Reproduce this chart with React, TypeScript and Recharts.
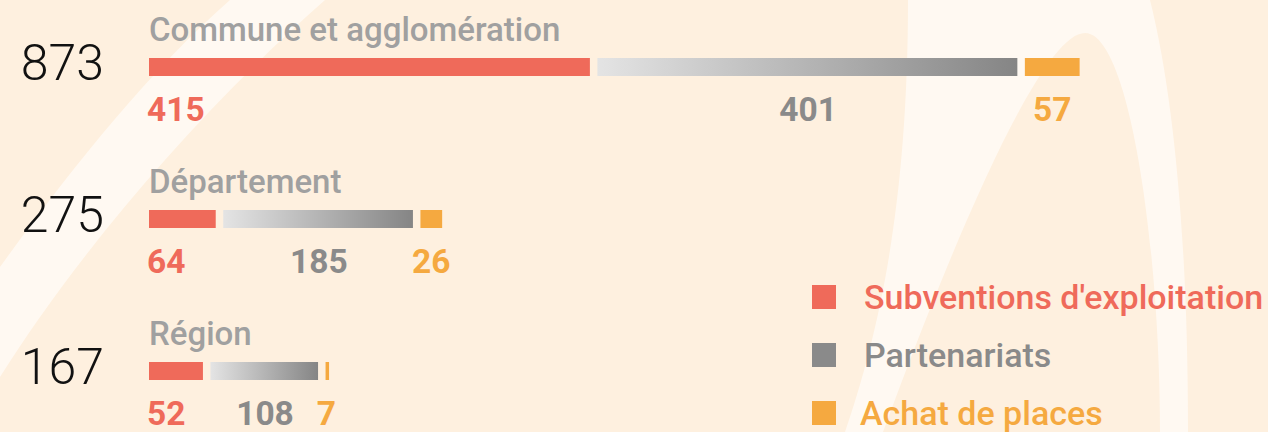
import React from 'react';
import { BarChart, Bar, XAxis, YAxis, Legend, LabelList } from 'recharts';

const categories = ['Commune et agglomération', 'Département', 'Région'];
const subventions = [415, 64, 52];
const partenariats = [401, 185, 108];
const achats = [57, 26, 7];
const seriesNames = ["Subventions d'exploitation", 'Partenariats', 'Achat de places'];
const seriesColors = ['#ef6a5a', '#8a8a8a', '#f5a940'];

const data = categories.map((name, i) => ({
  name,
  subventions: subventions[i],
  partenariats: partenariats[i],
  achats: achats[i],
  total: subventions[i] + partenariats[i] + achats[i],
}));

const FONT = 'Roboto, "Noto Sans", sans-serif';
const GAP = 6;

const segment = (gap: number, endTrim: number) => (props: any) => {
  const { x, y, width, height, fill } = props;
  const w = Math.max(width - gap - endTrim, 3.5);
  return <rect x={x + gap} y={y} width={w} height={height} fill={fill} />;
};

const titleLabel = (props: any) => {
  const { x, y, value } = props;
  return (
    <text x={x} y={y - 17} fill="#a0a0a0" fontSize={33} fontWeight={500} fontFamily={FONT}>
      {value}
    </text>
  );
};

const totalLabel = (props: any) => {
  const { x, y, value } = props;
  return (
    <text x={x - 45} y={y + 22} textAnchor="end" fill="#111" fontSize={50} fontWeight={300} fontFamily={FONT}>
      {value}
    </text>
  );
};

const valueLabel = (color: string, gap: number, first: boolean) => (props: any) => {
  const { x, y, width, value } = props;
  const cx = first ? x - 2 : x + (width + gap) / 2;
  return (
    <text
      x={cx}
      y={y + 63}
      textAnchor={first ? 'start' : 'middle'}
      fill={color}
      fontSize={33.5}
      fontWeight={700}
      fontFamily={FONT}
    >
      {value}
    </text>
  );
};

const renderLegend = () => (
  <div style={{ fontFamily: FONT }}>
    {seriesNames.map((name, i) => (
      <div key={name} style={{ display: 'flex', alignItems: 'center', height: 58 }}>
        <div style={{ width: 24, height: 24, background: seriesColors[i], marginRight: i === 2 ? 24 : 28, flexShrink: 0 }} />
        <span style={{ color: seriesColors[i], fontSize: 34, fontWeight: 500, whiteSpace: 'nowrap' }}>{name}</span>
      </div>
    ))}
  </div>
);

export default function App() {
  return (
    <div
      style={{
        position: 'absolute',
        left: 0,
        top: 0,
        width: 1268,
        height: 432,
        overflow: 'hidden',
        background: '#fef0df',
      }}
    >
      <svg width={1268} height={432} style={{ position: 'absolute', left: 0, top: 0 }}>
        <path d="M 230 0 L 325 0 C 200 110 80 250 0 377 L 0 267 C 70 170 150 70 230 0 Z" fill="#fff9f2" />
        <path
          d="M 908 0 L 1150 0 C 1175 100 1188 250 1188 432 L 1160 432 C 1160 250 1130 33 1085 33 C 1040 33 950 250 883 432 L 845 432 C 880 330 908 200 908 0 Z"
          fill="#fff9f2"
        />
      </svg>
      <div style={{ position: 'absolute', left: 0, top: 0 }}>
        <BarChart
          width={1268}
          height={432}
          data={data}
          layout="vertical"
          margin={{ top: -9, right: 53, bottom: -15, left: 149 }}
          barSize={18}
        >
          <defs>
            <linearGradient id="gradPart" x1="0" y1="0" x2="1" y2="0">
              <stop offset="0" stopColor="#e4e4e4" />
              <stop offset="1" stopColor="#858585" />
            </linearGradient>
          </defs>
          <XAxis type="number" domain={[0, 1000]} hide />
          <YAxis type="category" dataKey="name" hide />
          <Bar
            dataKey="subventions"
            name={seriesNames[0]}
            stackId="a"
            fill={seriesColors[0]}
            shape={segment(0, 1.5)}
            isAnimationActive={false}
          >
            <LabelList dataKey="name" content={titleLabel} />
            <LabelList dataKey="total" content={totalLabel} />
            <LabelList dataKey="subventions" content={valueLabel(seriesColors[0], 0, true)} />
          </Bar>
          <Bar
            dataKey="partenariats"
            name={seriesNames[1]}
            stackId="a"
            fill="url(#gradPart)"
            shape={segment(GAP, 1.5)}
            isAnimationActive={false}
          >
            <LabelList dataKey="partenariats" content={valueLabel(seriesColors[1], GAP, false)} />
          </Bar>
          <Bar
            dataKey="achats"
            name={seriesNames[2]}
            stackId="a"
            fill={seriesColors[2]}
            shape={segment(GAP, 0)}
            isAnimationActive={false}
          >
            <LabelList dataKey="achats" content={valueLabel(seriesColors[2], GAP, false)} />
          </Bar>
          <Legend
            layout="horizontal"
            verticalAlign="middle"
            content={renderLegend}
            wrapperStyle={{ position: 'absolute', left: 812, top: 268, width: 456 }}
          />
        </BarChart>
      </div>
    </div>
  );
}
